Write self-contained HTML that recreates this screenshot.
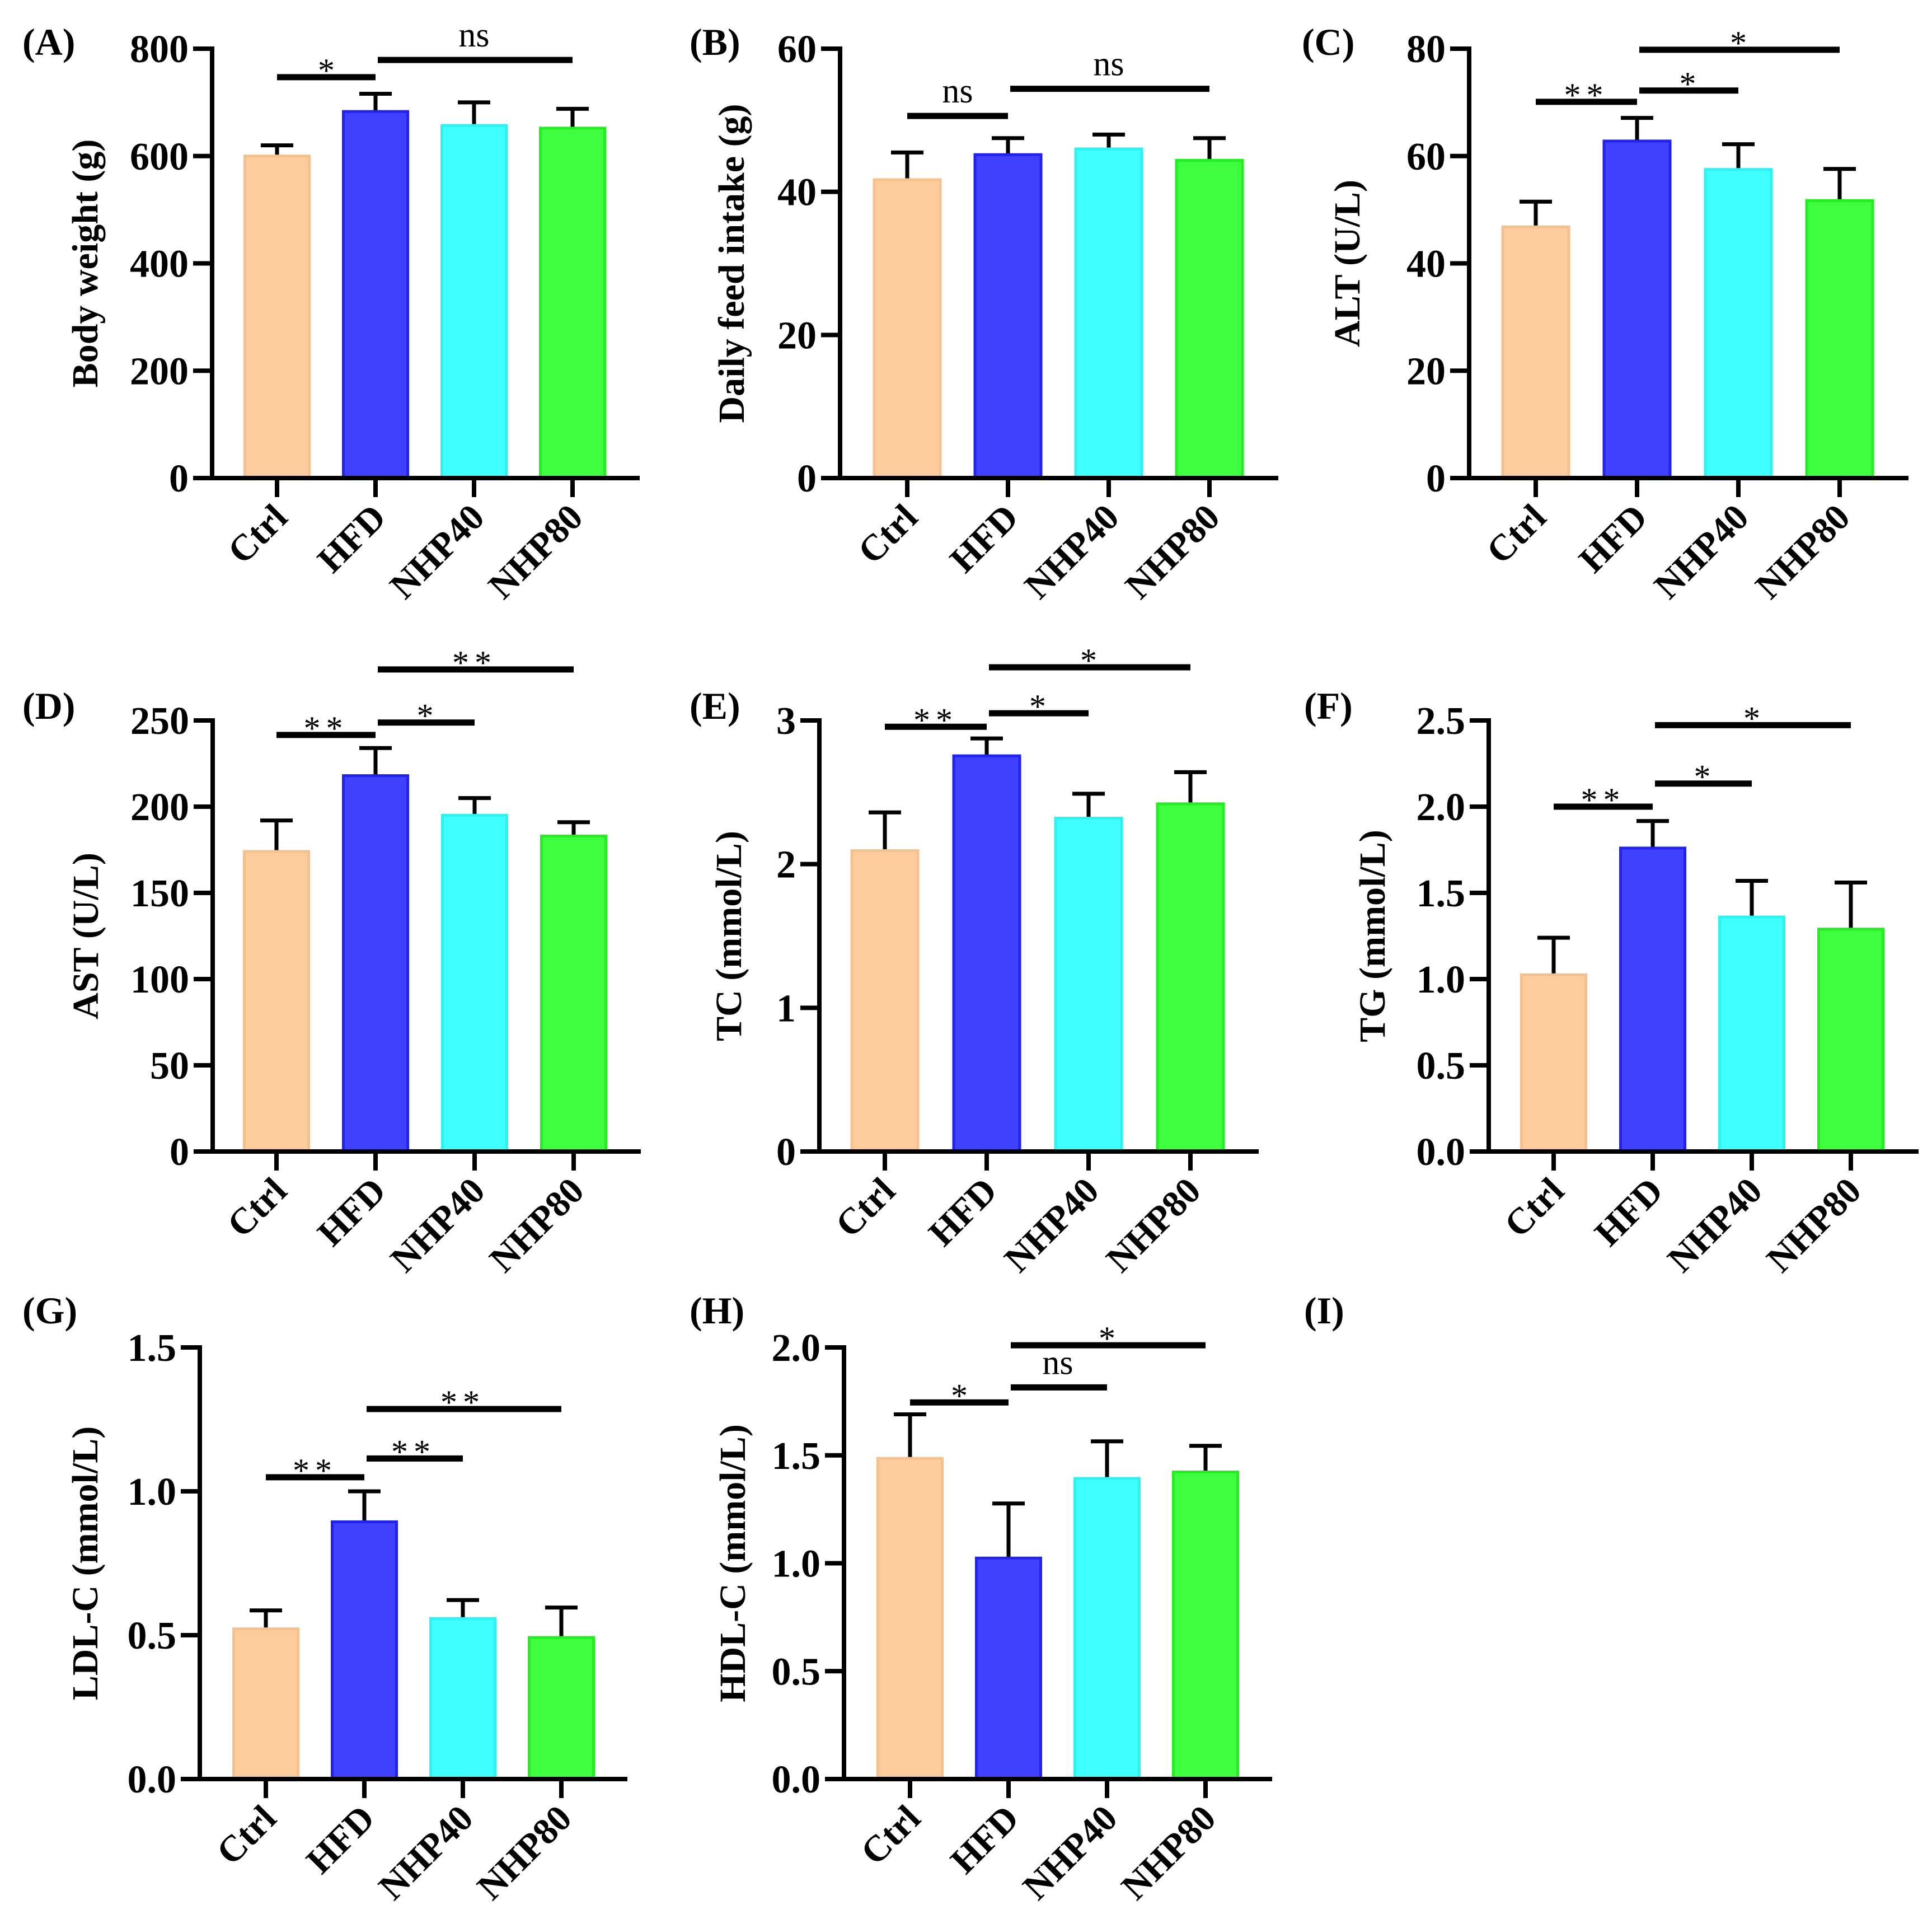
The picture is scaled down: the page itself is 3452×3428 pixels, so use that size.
<!DOCTYPE html>
<html><head><meta charset="utf-8"><style>
html,body{margin:0;padding:0;background:#fff}
svg{display:block}
text{font-family:"Liberation Serif",serif;fill:#000}
</style></head><body>
<svg id="fig" width="3452" height="3428" viewBox="0 0 3452 3428" xmlns="http://www.w3.org/2000/svg"></svg>
<script>
const groups = ["Ctrl","HFD","NHP40","NHP80"];
// Panel A
const aMeans=[600,683,657,652]; const aErr=[620,716,700,688]; const aTicks=[0,200,400,600,800];
const aSig=[[0,1,747,"*"],[1,3,779,"ns"]];
// Panel B
const bMeans=[41.7,45.2,46.0,44.4]; const bErr=[45.5,47.5,48.0,47.5]; const bTicks=[0,20,40,60];
const bSig=[[0,1,50.6,"ns"],[1,3,54.4,"ns"]];
// Panel C
const cMeans=[46.8,62.8,57.5,51.7]; const cErr=[51.5,67.1,62.2,57.6]; const cTicks=[0,20,40,60,80];
const cSig=[[0,1,70.1,"**"],[1,2,72.2,"*"],[1,3,79.8,"*"]];
// Panel D
const dMeans=[174,218,195,183]; const dErr=[192,234,205,191]; const dTicks=[0,50,100,150,200,250];
const dSig=[[0,1,241.6,"**"],[1,2,248.8,"*"],[1,3,279.6,"**"]];
// Panel E
const eMeans=[2.094,2.754,2.32,2.42]; const eErr=[2.36,2.875,2.49,2.64]; const eTicks=[0,1,2,3];
const eSig=[[0,1,2.956,"**"],[1,2,3.05,"*"],[1,3,3.37,"*"]];
// Panel F
const fMeans=[1.025,1.76,1.36,1.29]; const fErr=[1.24,1.917,1.57,1.56]; const fTicks=[0,0.5,1.0,1.5,2.0,2.5];
const fSig=[[0,1,2.0,"**"],[1,2,2.134,"*"],[1,3,2.473,"*"]];
// Panel G
const gMeans=[0.522,0.894,0.558,0.492]; const gErr=[0.586,1.0,0.622,0.596]; const gTicks=[0,0.5,1.0,1.5];
const gSig=[[0,1,1.049,"**"],[1,2,1.114,"**"],[1,3,1.286,"**"]];
// Panel H
const hMeans=[1.486,1.024,1.393,1.423]; const hErr=[1.69,1.277,1.565,1.544]; const hTicks=[0,0.5,1.0,1.5,2.0];
const hSig=[[0,1,1.745,"*"],[1,2,1.815,"ns"],[1,3,2.01,"*"]];

const fills=["#FCCC9C","#4040FF","#40FFFF","#40FF40"];
const strokes=["#F7C08C","#2222EE","#2EF2F2","#22EE22"];
const NS="http://www.w3.org/2000/svg";
const svg=document.getElementById('fig');
function mk(tag,attrs,parent){const e=document.createElementNS(NS,tag);for(const k in attrs)e.setAttribute(k,attrs[k]);(parent||svg).appendChild(e);return e;}

function panel(cfg){
  const g=mk('g',{});
  
  
  const top=cfg.top, zero=cfg.zero, max=cfg.ticks[cfg.ticks.length-1];
  const y=v=>zero-(v/max)*(zero-top);
  const cx=i=>cfg.ax+cfg.first+i*cfg.sp;
  const lab=mk('text',{x:cfg.lx,y:cfg.ly,'font-size':68,'font-weight':'bold'},g);
  lab.textContent='('+cfg.id+')';
  
  
  cfg.means.forEach((m,i)=>{
    const e=cfg.err[i];
    const eb=mk('path',{d:`M${cx(i)} ${y(m)} V${y(e)} M${cx(i)-29} ${y(e)} H${cx(i)+29}`,stroke:'#000','stroke-width':7,fill:'none'},g);
    
    
    const r=mk('rect',{x:cx(i)-cfg.bw/2,y:y(m),width:cfg.bw,height:zero-y(m),fill:fills[i],stroke:strokes[i],'stroke-width':5},g);
    
    
    const t=mk('line',{x1:cx(i),x2:cx(i),y1:zero,y2:zero+34,stroke:'#000','stroke-width':8},g);
    
    
    const xl=mk('text',{x:0,y:0,'font-size':66,'font-weight':'bold','text-anchor':'end',transform:`translate(${cx(i)+22},${zero+74}) rotate(-45)`},g);
    xl.textContent=groups[i];
    
    
  });
  const ya=mk('line',{x1:cfg.ax,x2:cfg.ax,y1:top-4,y2:zero+4,stroke:'#000','stroke-width':8},g);
  
  
  const xa=mk('line',{x1:cfg.ax-34,x2:cfg.end,y1:zero,y2:zero,stroke:'#000','stroke-width':8},g);
  
  
  cfg.ticks.forEach(v=>{
    const tk=mk('line',{x1:cfg.ax-34,x2:cfg.ax,y1:y(v),y2:y(v),stroke:'#000','stroke-width':8},g);
    
    
    const tl=mk('text',{x:cfg.ax-42,y:y(v)+24,'font-size':70,'font-weight':'bold','text-anchor':'end'},g);
    tl.textContent=cfg.dec?v.toFixed(1):String(v);
    
    
  });
  const yt=mk('text',{x:0,y:0,'font-size':66,'font-weight':'bold','text-anchor':'middle',transform:`translate(${cfg.ax-cfg.tOff},${(top+zero)/2}) rotate(-90)`},g);
  yt.textContent=cfg.title;
  
  
  cfg.sig.forEach(s=>{
    const x1=cx(s[0]), x2=cx(s[1]), yy=y(s[2]);
    const ln=mk('line',{x1:x1+(s[0]===1?4:0),x2:x2,y1:yy,y2:yy,stroke:'#000','stroke-width':11},g);
    
    
    const isNs=s[3]==='ns';
    const st=mk('text',{x:(x1+x2)/2,y:isNs?yy-24:yy+8,'font-size':isNs?62:60,'text-anchor':'middle','letter-spacing':s[3]==='**'?'10':'0'},g);
    st.textContent=s[3];
    
    
  });
}
const R1=[87,854], R2=[1287,2057], R3=[2407,3178];
panel({id:'A',lx:40,ly:98,ax:379,end:1143,first:116,sp:176,bw:115,top:R1[0],zero:R1[1],ticks:aTicks,means:aMeans,err:aErr,sig:aSig,title:'Body weight (g)',tOff:205});
panel({id:'B',lx:1232,ly:98,ax:1501,end:2284,first:120,sp:180,bw:118,top:R1[0],zero:R1[1],ticks:bTicks,means:bMeans,err:bErr,sig:bSig,title:'Daily feed intake (g)',tOff:172});
panel({id:'C',lx:2326,ly:98,ax:2625,end:3410,first:119,sp:181,bw:118,top:R1[0],zero:R1[1],ticks:cTicks,means:cMeans,err:cErr,sig:cSig,title:'ALT (U/L)',tOff:196});
panel({id:'D',lx:40,ly:1284,ax:380,end:1145,first:114,sp:177,bw:115,top:R2[0],zero:R2[1],ticks:dTicks,means:dMeans,err:dErr,sig:dSig,title:'AST (U/L)',tOff:205});
panel({id:'E',lx:1232,ly:1284,ax:1464,end:2249,first:117,sp:182,bw:118,top:R2[0],zero:R2[1],ticks:eTicks,means:eMeans,err:eErr,sig:eSig,title:'TC (mmol/L)',tOff:140});
panel({id:'F',lx:2330,ly:1284,ax:2660,end:3428,first:116,sp:177,bw:115,top:R2[0],zero:R2[1],ticks:fTicks,means:fMeans,err:fErr,sig:fSig,title:'TG (mmol/L)',tOff:186,dec:true});
panel({id:'G',lx:40,ly:2364,ax:357,end:1121,first:118,sp:176,bw:115,top:R3[0],zero:R3[1],ticks:gTicks,means:gMeans,err:gErr,sig:gSig,title:'LDL-C (mmol/L)',tOff:183,dec:true});
panel({id:'H',lx:1232,ly:2364,ax:1508,end:2273,first:118,sp:176,bw:115,top:R3[0],zero:R3[1],ticks:hTicks,means:hMeans,err:hErr,sig:hSig,title:'HDL-C (mmol/L)',tOff:177,dec:true});
const il=mk('text',{x:2330,y:2364,'font-size':68,'font-weight':'bold'});
il.textContent='(I)';


</script>
</body></html>
